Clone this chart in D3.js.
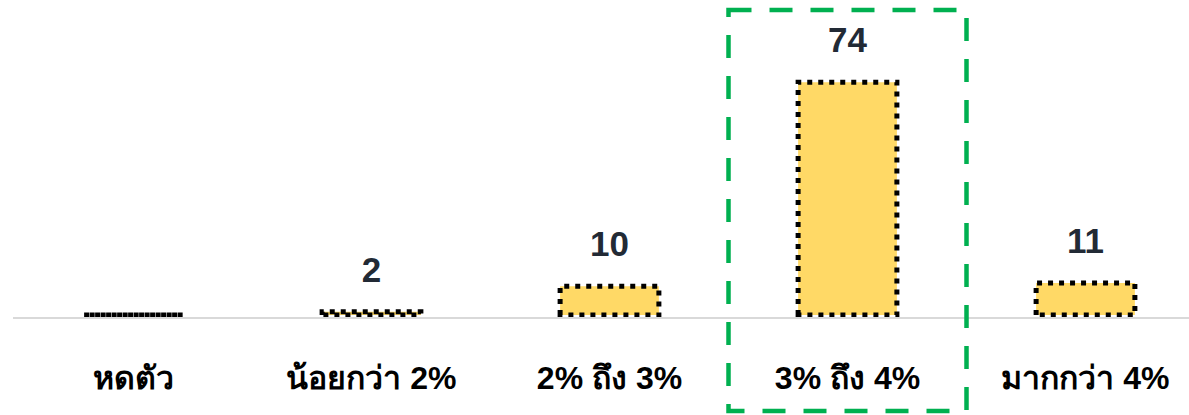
<!DOCTYPE html>
<html>
<head>
<meta charset="utf-8">
<script src="https://cdn.jsdelivr.net/npm/d3@7"></script>
<style>
  body { margin: 0; background: #fff; }
  text { font-family: "Liberation Sans", Arial, "Noto Sans", sans-serif; font-weight: bold; }
</style>
</head>
<body>
<div id="chart"></div>
<script>
// data
var categories = ["หดตัว", "น้อยกว่า 2%", "2% ถึง 3%", "3% ถึง 4%", "มากกว่า 4%"];
var values = [0, 2, 10, 74, 11];
var showLabel = [false, true, true, true, true];
var highlighted = "3% ถึง 4%";

var svgWidth = 1189;
var svgHeight = 415;

var rows = categories.map((c, i) => ({ cat: c, value: values[i], label: showLabel[i] }));

var svg = d3.select("#chart")
  .append("svg")
  .attr("width", svgWidth)
  .attr("height", svgHeight);

// scales
var xBand = d3.scaleBand()
  .domain(categories)
  .range([14.5, 1204.5])
  .paddingInner(0.585)
  .paddingOuter(0.2925);

var yLin = d3.scaleLinear()
  .domain([0, 80])
  .range([318, 63]);

var step = xBand.step();
var bw = xBand.bandwidth();

// bars with dotted outline (path so a zero bar still shows its outline)
// outline sits a touch above the baseline, like the original
svg.selectAll("path.bar")
  .data(rows)
  .enter()
  .append("path")
  .attr("class", "bar")
  .attr("d", d => {
    var x0 = xBand(d.cat), y0 = yLin(0) - 3, y1 = Math.min(yLin(d.value), y0);
    return `M${x0},${y0}V${y1}H${x0 + bw}V${y0}Z`;
  })
  .attr("fill", "#ffd966")
  .attr("stroke", "#000")
  .attr("stroke-width", 5)
  .attr("stroke-dasharray", "5 6");

// baseline
var bottomAxis = d3.axisBottom(xBand).tickSize(0).tickFormat("");
var xAxis = svg.append("g")
  .attr("transform", `translate(0, ${yLin(0)})`)
  .call(bottomAxis);
xAxis.select(".domain")
  .attr("d", `M13,0H${svgWidth}`)
  .attr("stroke", "#d9d9d9")
  .attr("stroke-width", 2);

// value labels
svg.selectAll("text.val")
  .data(rows.filter(d => d.label))
  .enter()
  .append("text")
  .attr("class", "val")
  .attr("x", d => xBand(d.cat) + bw / 2)
  .attr("y", d => yLin(d.value) - 30)
  .attr("text-anchor", "middle")
  .attr("font-size", 35)
  .attr("fill", "#222a35")
  .text(d => d.value);

// category labels
svg.selectAll("text.cat")
  .data(categories)
  .enter()
  .append("text")
  .attr("class", "cat")
  .attr("x", d => xBand(d) + bw / 2)
  .attr("y", 389)
  .attr("text-anchor", "middle")
  .attr("font-size", 32)
  .attr("fill", "#000")
  .text(d => d);

// green dashed highlight box
svg.append("rect")
  .attr("x", xBand(highlighted) + bw / 2 - step / 2)
  .attr("y", 10)
  .attr("width", step)
  .attr("height", 401)
  .attr("fill", "none")
  .attr("stroke", "#00b050")
  .attr("stroke-width", 4.5)
  .attr("stroke-dasharray", "23 18");
</script>
</body>
</html>
